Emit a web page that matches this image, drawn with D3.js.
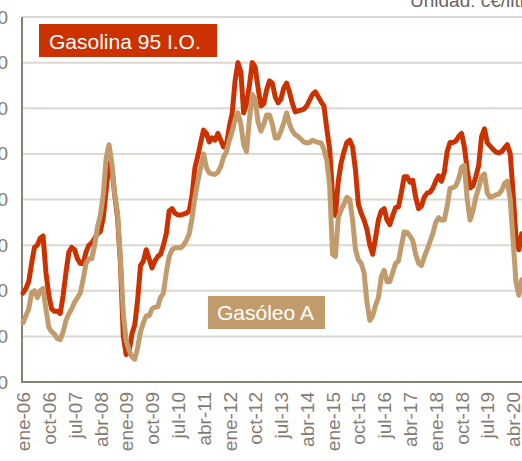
<!DOCTYPE html>
<html>
<head>
<meta charset="utf-8">
<script src="https://cdn.jsdelivr.net/npm/d3@7"></script>
<style>
  html, body { margin: 0; padding: 0; background: #fff; overflow: hidden; }
  svg { display: block; font-family: "Liberation Sans", Arial, sans-serif; }
</style>
</head>
<body>
<svg id="chart" width="522" height="461"></svg>
<script>
// Monthly prices, c€/litro, from ene-06 onwards
const startMonth = new Date(2006, 0, 1);

const gasolina95 = [
  99.5, 100.5, 102, 106, 109.5, 110, 111.5, 112, 104, 99, 96, 95.5,
  95.5, 95, 99, 104, 108.5, 109.5, 109, 107, 106, 106, 108.5, 110,
  110.5, 111.5, 112.5, 113, 116, 122, 128, 127, 121, 116, 106, 90,
  86, 86.5, 90.5, 92.5, 98, 105.5, 106.5, 109, 107, 105, 106.5, 107.5,
  108, 110, 112.5, 117.5, 118, 117, 116.6, 116.6, 116.8, 117, 117.5, 121,
  127, 129.5, 132.5, 135.2, 134.5, 132.6, 133.5, 133, 134.5, 133, 131.5, 132,
  136, 139, 146, 150, 148, 139, 141, 145, 150, 149, 144.5, 140.5,
  141, 144, 146, 145.5, 142.5, 141.2, 142, 144.5, 145.5, 143.5, 141, 139.2,
  139.4, 139.6, 139.8, 140.5, 141.8, 143, 143.6, 142.5, 141.4, 140.5, 135.5, 131,
  121, 116.5, 124, 128, 130.5, 132.5, 133, 131.5, 126.5, 119, 117, 115.5,
  113.5, 110, 108, 111.5, 115.5, 117.5, 118, 115.5, 114.5, 116.5, 118.2, 118.4,
  121.5, 125, 125, 123.8, 124.2, 120.5, 118, 118.5, 120.5, 121.4, 121.6, 122.5,
  124, 125.2, 124, 126, 130.5, 132.5, 132.5, 132.8, 133.8, 134.5, 131.5, 126.5,
  122.5, 123, 125, 127.5, 133.8, 135.5, 132.4, 131.7, 131, 130.4, 130.2, 130.5,
  131.3, 132, 130, 121.4, 111.8, 109, 112.5
];

const gasoleoA = [
  93, 94.5, 96, 99.5, 100, 98.5, 100, 100.5, 96, 92, 91, 90.5,
  89.5, 89.3, 91, 93.5, 95, 96, 97.5, 98.5, 99.5, 102.5, 106, 107,
  107, 110, 114, 116.5, 121, 129, 132, 128, 121, 117, 107, 95,
  89, 87, 85.5, 85, 87.5, 91, 93, 94.5, 94.5, 96, 96.4, 96.5,
  98.5, 99.5, 104, 107.5, 109, 109.4, 109.4, 109.4, 110, 111, 112.5, 116,
  120.5, 124, 127, 130, 127, 125.8, 125.6, 125.5, 126, 127.2, 129.3, 130.5,
  133, 135, 137.5, 139, 136.5, 132, 130.5, 137.5, 143, 142, 137, 135,
  136.5, 138.5, 138.5, 136.5, 133.5, 133.5, 135, 136.8, 139, 136.5, 135, 134.2,
  133.8, 133.2, 132.6, 132.4, 132.5, 133, 132.7, 132.5, 132.4, 131, 128.5, 123,
  108, 107.5, 116, 117.7, 119, 120.5, 120, 115.5, 109, 106.8, 106, 104,
  97.5, 93.5, 94.5, 96.8, 98.5, 103, 104.5, 102, 102, 104, 106, 106.5,
  109.8, 112.9, 112.8, 112, 111, 108, 106, 105.5, 107.4, 109, 110.8, 112.5,
  115, 116, 115.5, 115.5, 118.5, 122.5, 122.6, 123, 124.5, 127, 127.5, 120,
  115.5, 117.5, 120.5, 122.5, 125, 125.6, 121.4, 120.5, 120.7, 121, 121.2, 122,
  123.5, 124, 120, 111, 102, 99, 102.4
];

const xTickLabels = [
  "ene-06", "oct-06", "jul-07", "abr-08", "ene-09", "oct-09", "jul-10",
  "abr-11", "ene-12", "oct-12", "jul-13", "abr-14", "ene-15", "oct-15",
  "jul-16", "abr-17", "ene-18", "oct-18", "jul-19", "abr-20"
];
const yTicks = [80, 90, 100, 110, 120, 130, 140, 150, 160];

const seriesNames = ["Gasolina 95 I.O.", "Gasóleo A"];
const seriesColors = ["#cc3100", "#c29b6d"];
const unitLabel = "Unidad: c€/litro";

// Month dates for each value; ticks every nine months
const months = d3.timeMonth.range(startMonth, d3.timeMonth.offset(startMonth, gasolina95.length));
const tickEvery = 9;

const svg = d3.select("#chart");
const plot = { left: 22, right: 522, top: 17, bottom: 382 };

const x = d3.scaleLinear()
  .domain([0, 174])
  .range([23, 521.7]);

const y = d3.scaleLinear()
  .domain([80, 160])
  .range([plot.bottom, plot.top]);

// Horizontal gridlines
svg.append("g")
  .selectAll("line")
  .data(yTicks)
  .join("line")
  .attr("x1", plot.left)
  .attr("x2", plot.right)
  .attr("y1", d => y(d))
  .attr("y2", d => y(d))
  .attr("stroke", "#dcd7d1")
  .attr("stroke-width", 2);

// Y axis labels (left)
const yAxis = d3.axisLeft(y)
  .tickValues(yTicks)
  .tickSize(0)
  .tickPadding(14)
  .tickFormat(d3.format("d"));
const gy = svg.append("g")
  .attr("transform", `translate(${plot.left},0)`)
  .call(yAxis);
gy.select(".domain").remove();
gy.selectAll("text")
  .attr("fill", "#857b72")
  .attr("font-size", 19)
  .attr("font-family", "Liberation Sans, Arial, sans-serif");

// X axis labels, rotated
const xAxis = d3.axisBottom(x)
  .tickValues(xTickLabels.map((_, i) => i * tickEvery))
  .tickSize(0)
  .tickFormat((d, i) => xTickLabels[i]);
const gx = svg.append("g")
  .attr("transform", `translate(0,${plot.bottom})`)
  .call(xAxis);
gx.select(".domain").remove();
gx.selectAll("text")
  .attr("transform", "rotate(-90)")
  .attr("text-anchor", "end")
  .attr("x", -10)
  .attr("y", 0)
  .attr("dy", "0.35em")
  .attr("fill", "#857b72")
  .attr("font-size", 19)
  .attr("font-family", "Liberation Sans, Arial, sans-serif");

// Axis lines
svg.append("line")
  .attr("x1", plot.left).attr("x2", plot.left)
  .attr("y1", plot.top).attr("y2", plot.bottom + 1)
  .attr("stroke", "#8b8172").attr("stroke-width", 2);
svg.append("line")
  .attr("x1", plot.left - 1).attr("x2", plot.right)
  .attr("y1", plot.bottom).attr("y2", plot.bottom)
  .attr("stroke", "#8b8172").attr("stroke-width", 2);

// Series lines: gasolina first, gasóleo drawn on top
const line = d3.line()
  .x((d, i) => x(i))
  .y(d => y(d))
  .curve(d3.curveLinear);

[gasolina95, gasoleoA].forEach((values, k) => {
  svg.append("path")
    .datum(values)
    .attr("fill", "none")
    .attr("stroke", seriesColors[k])
    .attr("stroke-width", 5)
    .attr("stroke-linejoin", "round")
    .attr("stroke-linecap", "round")
    .attr("d", line);
});

// Series labels with filled boxes
const labels = [
  { text: seriesNames[0], color: seriesColors[0], box: [39, 24, 178, 33], tx: 49, ty: 49 },
  { text: seriesNames[1], color: seriesColors[1], box: [208, 296, 117, 33], tx: 217, ty: 320 }
];
labels.forEach(l => {
  svg.append("rect")
    .attr("x", l.box[0]).attr("y", l.box[1])
    .attr("width", l.box[2]).attr("height", l.box[3])
    .attr("fill", l.color);
  svg.append("text")
    .attr("x", l.tx).attr("y", l.ty)
    .attr("fill", "#ffffff")
    .attr("font-size", 21)
    .text(l.text);
});

// Unit note
svg.append("text")
  .attr("x", 410)
  .attr("y", 7)
  .attr("fill", "#6b6560")
  .attr("font-size", 19)
  .text(unitLabel);
</script>
</body>
</html>
